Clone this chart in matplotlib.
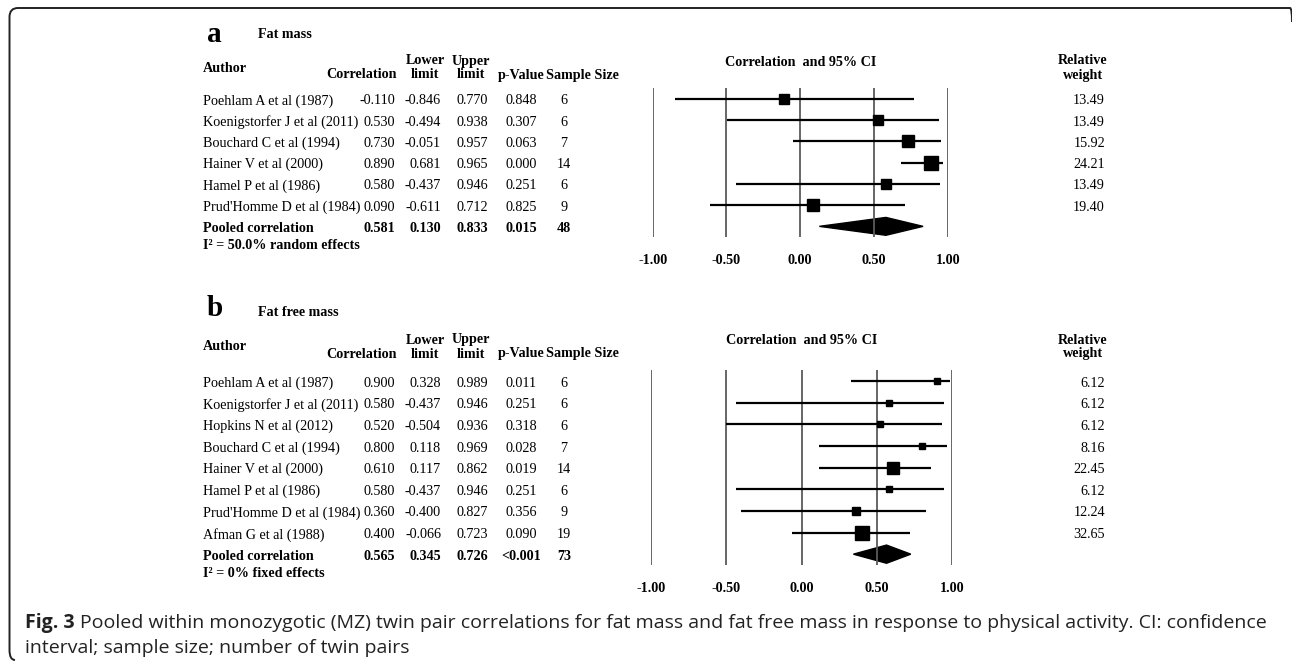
import matplotlib.pyplot as plt
import numpy as np
from matplotlib.path import Path
from matplotlib.patches import PathPatch, Polygon
from matplotlib.transforms import blended_transform_factory

# panel a: fat mass
a_authors = ["Poehlam A et al (1987)", "Koenigstorfer J et al (2011)", "Bouchard C et al (1994)",
             "Hainer V et al (2000)", "Hamel P et al (1986)", "Prud'Homme D et al (1984)"]
a_corr = [-0.110, 0.530, 0.730, 0.890, 0.580, 0.090]
a_lower = [-0.846, -0.494, -0.051, 0.681, -0.437, -0.611]
a_upper = [0.770, 0.938, 0.957, 0.965, 0.946, 0.712]
a_p = ["0.848", "0.307", "0.063", "0.000", "0.251", "0.825"]
a_n = [6, 6, 7, 14, 6, 9]
a_weight = [13.49, 13.49, 15.92, 24.21, 13.49, 19.40]
a_pooled = [0.581, 0.130, 0.833, "0.015", 48]
a_i2 = "I\u00b2 = 50.0% random effects"

# panel b: fat free mass
b_authors = ["Poehlam A et al (1987)", "Koenigstorfer J et al (2011)", "Hopkins N et al (2012)",
             "Bouchard C et al (1994)", "Hainer V et al (2000)", "Hamel P et al (1986)",
             "Prud'Homme D et al (1984)", "Afman G et al (1988)"]
b_corr = [0.900, 0.580, 0.520, 0.800, 0.610, 0.580, 0.360, 0.400]
b_lower = [0.328, -0.437, -0.504, 0.118, 0.117, -0.437, -0.400, -0.066]
b_upper = [0.989, 0.946, 0.936, 0.969, 0.862, 0.946, 0.827, 0.723]
b_p = ["0.011", "0.251", "0.318", "0.028", "0.019", "0.251", "0.356", "0.090"]
b_n = [6, 6, 6, 7, 14, 6, 9, 19]
b_weight = [6.12, 6.12, 6.12, 8.16, 22.45, 6.12, 12.24, 32.65]
b_pooled = [0.565, 0.345, 0.726, "<0.001", 73]
b_i2 = "I\u00b2 = 0% fixed effects"

ticks = [-1.0, -0.5, 0.0, 0.5, 1.0]

caption1 = ("Pooled within monozygotic (MZ) twin pair correlations for fat mass and fat free mass "
            "in response to physical activity. CI: confidence")
caption2 = "interval; sample size; number of twin pairs"

W, H = 1292, 666
fig = plt.figure(figsize=(W / 100, H / 100), dpi=100)
serif = "Liberation Serif"
fs = 10.2


def fx(px):
    return px / W


def fy(py):
    return 1 - py / H


def panel(letter, title, authors, corr, lower, upper, pvals, ns, weights, pooled, i2,
          top, hdr, x_lo, x_hi, ax_top, ax_bot, k):
    nrow = len(authors)
    ax = fig.add_axes([fx(x_lo), fy(ax_bot), fx(x_hi - x_lo), (ax_bot - ax_top) / H])
    ax.set_xlim(-1, 1)
    ax.set_ylim(nrow + 0.5, -0.5)
    for s in ax.spines.values():
        s.set_visible(False)
    ax.set_yticks([])
    ax.set_xticks(ticks)
    ax.set_xticklabels([f"{t:.2f}" for t in ticks], fontfamily=serif, fontweight="bold", fontsize=fs)
    ax.tick_params(axis="x", length=0, pad=12)
    for t in ticks:
        ax.axvline(t, color="#5a5a5a", lw=1.3)
    rows = np.arange(nrow)
    ax.hlines(rows, lower, upper, color="black", lw=1.6)
    for r, c, w in zip(rows, corr, weights):
        ax.plot(c, r, marker="s", color="black", ms=k * np.sqrt(w) / 1.389, mec="black")
    dh = 0.42
    ax.add_patch(Polygon([(pooled[1], nrow), (pooled[0], nrow - dh), (pooled[2], nrow),
                          (pooled[0], nrow + dh)], closed=True, color="black"))

    # headings
    fig.text(fx(207), fy(top), letter, fontfamily=serif, fontweight="bold", fontsize=21, va="center")
    fig.text(fx(258), fy(hdr - 27), title, fontfamily=serif, fontweight="bold", fontsize=fs, va="center")
    h1, h2 = hdr, hdr + 14
    hk = dict(fontfamily=serif, fontweight="bold", fontsize=fs, va="center")
    fig.text(fx(203), fy(hdr + 7), "Author", ha="left", **hk)
    fig.text(fx(397), fy(h2), "Correlation", ha="right", **hk)
    fig.text(fx(425), fy(h1), "Lower", ha="center", **hk)
    fig.text(fx(425), fy(h2), "limit", ha="center", **hk)
    fig.text(fx(471), fy(h1), "Upper", ha="center", **hk)
    fig.text(fx(471), fy(h2), "limit", ha="center", **hk)
    fig.text(fx(521), fy(h2), "p-Value", ha="center", **hk)
    fig.text(fx(582), fy(h2), "Sample Size", ha="center", **hk)
    fig.text(fx((x_lo + x_hi) / 2), fy(hdr + 1), "Correlation  and 95% CI", ha="center", **hk)
    fig.text(fx(1083), fy(h1), "Relative", ha="center", **hk)
    fig.text(fx(1083), fy(h2), "weight", ha="center", **hk)

    tr = blended_transform_factory(fig.transFigure, ax.transData)
    rk = dict(fontfamily=serif, fontsize=fs, va="center", transform=tr)
    for r in rows:
        y = r + 0.1
        fig.text(fx(203), y, authors[r], ha="left", **rk)
        fig.text(fx(395), y, f"{corr[r]:.3f}", ha="right", **rk)
        fig.text(fx(441), y, f"{lower[r]:.3f}", ha="right", **rk)
        fig.text(fx(488), y, f"{upper[r]:.3f}", ha="right", **rk)
        fig.text(fx(521), y, pvals[r], ha="center", **rk)
        fig.text(fx(564), y, str(ns[r]), ha="center", **rk)
        fig.text(fx(1105), y, f"{weights[r]:.2f}", ha="right", **rk)
    bk = dict(rk, fontweight="bold")
    y = nrow + 0.1
    fig.text(fx(203), y, "Pooled correlation", ha="left", **bk)
    fig.text(fx(395), y, f"{pooled[0]:.3f}", ha="right", **bk)
    fig.text(fx(441), y, f"{pooled[1]:.3f}", ha="right", **bk)
    fig.text(fx(488), y, f"{pooled[2]:.3f}", ha="right", **bk)
    fig.text(fx(521), y, pooled[3], ha="center", **bk)
    fig.text(fx(564), y, str(pooled[4]), ha="center", **bk)
    fig.text(fx(203), y + 0.78, i2, ha="left", **bk)


panel("a", "Fat mass", a_authors, a_corr, a_lower, a_upper, a_p, a_n, a_weight, a_pooled, a_i2,
      top=34, hdr=61, x_lo=652.7, x_hi=947.7, ax_top=88, ax_bot=237, k=2.8)
panel("b", "Fat free mass", b_authors, b_corr, b_lower, b_upper, b_p, b_n, b_weight, b_pooled, b_i2,
      top=309, hdr=340, x_lo=651, x_hi=952, ax_top=370, ax_bot=565, k=2.45)

# rounded frame
verts = [(1292, 22), (1292, 8), (1290, 8), (1276, 8), (18, 8), (9.5, 8), (9.5, 17), (9.5, 650),
         (9.5, 660), (15, 660)]
codes = [Path.MOVETO, Path.CURVE3, Path.CURVE3, Path.LINETO, Path.LINETO, Path.CURVE3, Path.CURVE3,
         Path.LINETO, Path.CURVE3, Path.CURVE3]
verts = [(fx(x), fy(y)) for x, y in verts]
fig.add_artist(PathPatch(Path(verts, codes), transform=fig.transFigure, fill=False, lw=1.4,
                         color="#222222"))

# caption, sized so the first line spans like the reference
cfs = 13.4
cap = dict(fontfamily="Open Sans", fontsize=cfs, va="center", ha="left", color="#222222")
fig_lbl = fig.text(fx(25), fy(623), "Fig. 3", fontweight="bold", **cap)
r = fig.canvas.get_renderer()
lbl_w = fig_lbl.get_window_extent(r).width
line1 = fig.text(fx(25 + lbl_w + 5), fy(623), caption1, **cap)
w1 = line1.get_window_extent(r).width
scale = (1262 - 25 - lbl_w - 5) / w1
cfs = cfs * scale
fig_lbl.set_fontsize(cfs)
lbl_w = fig_lbl.get_window_extent(r).width
line1.set_fontsize(cfs)
line1.set_x(fx(25 + lbl_w + 5))
fig.text(fx(25), fy(648), caption2, **dict(cap, fontsize=cfs))

fig.savefig("out.png", dpi=100)
